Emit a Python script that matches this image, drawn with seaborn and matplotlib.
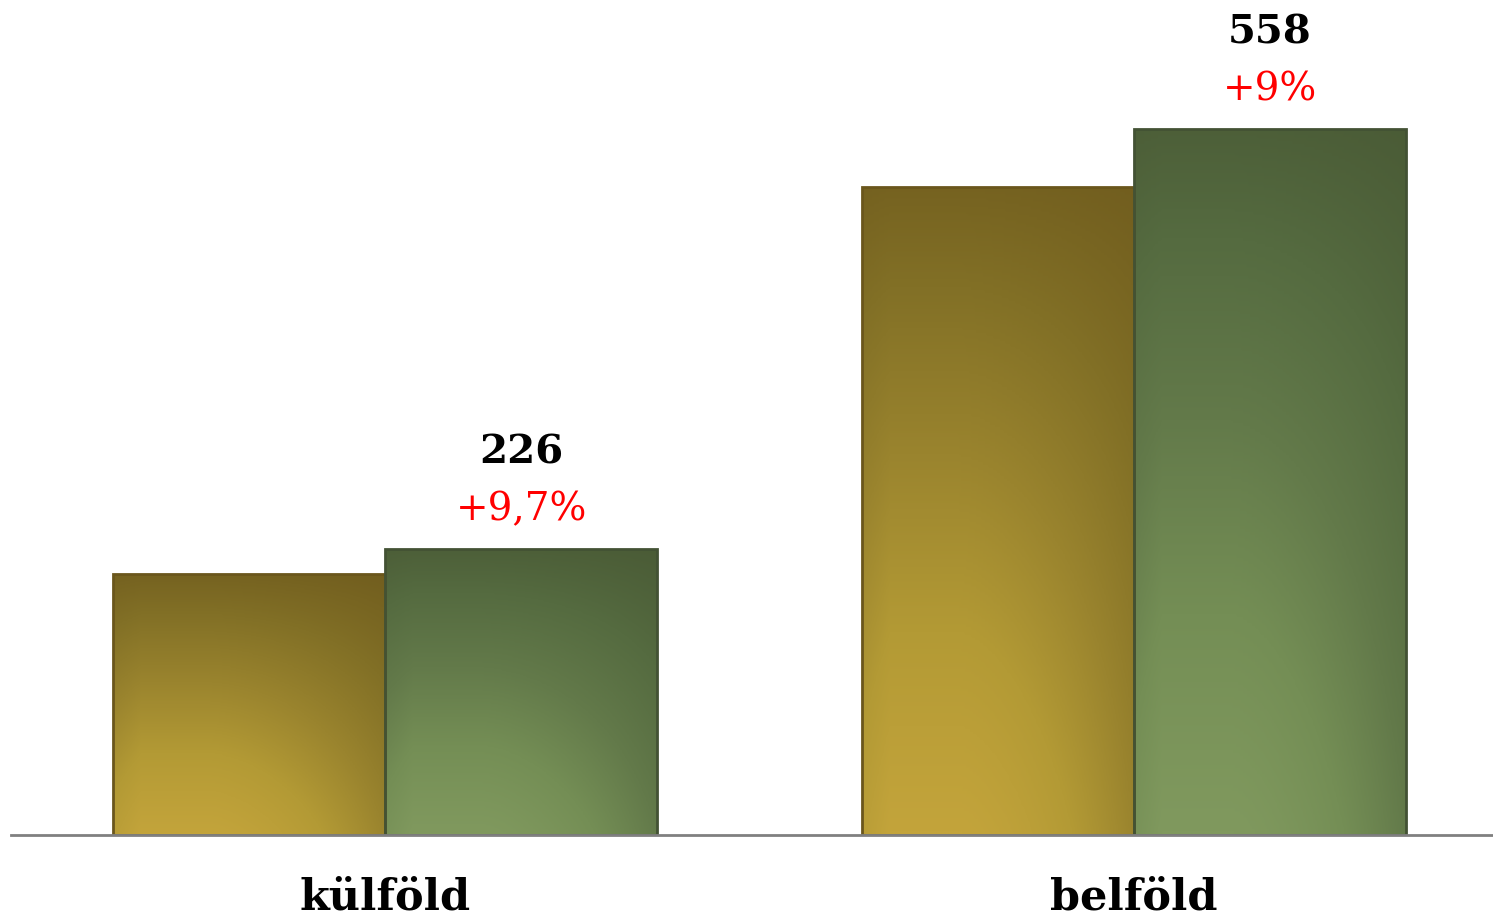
import numpy as np
import pandas as pd
import matplotlib
matplotlib.use("Agg")
import matplotlib.pyplot as plt
import seaborn as sns
from matplotlib.colors import LinearSegmentedColormap
from matplotlib.patches import Rectangle

# data
categories = ["külföld", "belföld"]
series = ["előző év", "tárgyév"]
prev_values = [206, 512]
curr_values = [226, 558]
changes = ["+9,7%", "+9%"]

sns.set_theme(style="white")
plt.rcParams['font.family'] = ['DejaVu Serif']

df = pd.DataFrame({
    "kategoria": categories * 2,
    "ev": [series[0]] * 2 + [series[1]] * 2,
    "ertek": prev_values + curr_values,
})

fig = plt.figure(figsize=(14.93, 9.18), dpi=100)
ax = fig.add_axes([11 / 1493, (918 - 835) / 918, (1493 - 11) / 1493, 835 / 918])

sns.barplot(data=df, x="kategoria", y="ertek", hue="ev", hue_order=series,
            order=categories, width=0.727, palette=["#a8902e", "#6a8249"],
            legend=False, ax=ax, zorder=2)

# gradient fills: light at the bottom, darker to the top and right edge
cmaps = [
    LinearSegmentedColormap.from_list("gold", ["#c3a43b", "#b39a35", "#9a842e", "#827026", "#6e5a1d"]),
    LinearSegmentedColormap.from_list("green", ["#80995e", "#748e55", "#637a4a", "#556b40", "#485834"]),
]
edges = ["#6a561c", "#435234"]
uu, vv = np.meshgrid(np.linspace(0, 1, 160), np.linspace(0, 1, 240))
side = 0.5 * np.clip((uu - 0.35) / 0.65, 0, 1) ** 1.6 + 0.15 * np.clip((0.1 - uu) / 0.1, 0, 1)
vert = 0.9 * vv ** 1.1
t = 1 - (1 - vert) * (1 - side)
for i, cont in enumerate(ax.containers):
    for bar in cont:
        x, y = bar.get_x(), bar.get_y()
        w, h = bar.get_width(), bar.get_height()
        bar.set_facecolor("none")
        bar.set_edgecolor("none")
        im = ax.imshow(t, cmap=cmaps[i], origin="lower", aspect="auto",
                       extent=[x, x + w, y, y + h], vmin=0, vmax=1, zorder=2)
        im.set_clip_path(bar)
        ax.add_patch(Rectangle((x, y), w, h, fill=False, edgecolor=edges[i],
                               linewidth=2, zorder=3))

# value labels above the current-year bars
for bar, val, chg in zip(ax.containers[1], curr_values, changes):
    cx = bar.get_x() + bar.get_width() / 2
    ax.text(cx, val + 76, str(val), ha="center", va="center",
            fontsize=29, fontweight="bold", color="black")
    ax.text(cx, val + 31, chg, ha="center", va="center",
            fontsize=28, color="#ff0000")

ax.set_xlim(-0.5, 1.48)
ax.set_ylim(0, 660)
ax.set_xlabel("")
ax.set_ylabel("")
ax.set_yticks([])
for s in ["top", "left", "right"]:
    ax.spines[s].set_visible(False)
ax.spines["bottom"].set_color("#808080")
ax.spines["bottom"].set_linewidth(2)
ax.spines["bottom"].set_zorder(4)
ax.tick_params(axis="x", length=0, pad=30, labelsize=31, labelcolor="black")
for lab in ax.get_xticklabels():
    lab.set_fontweight("bold")

fig.savefig("out.png", dpi=100)
